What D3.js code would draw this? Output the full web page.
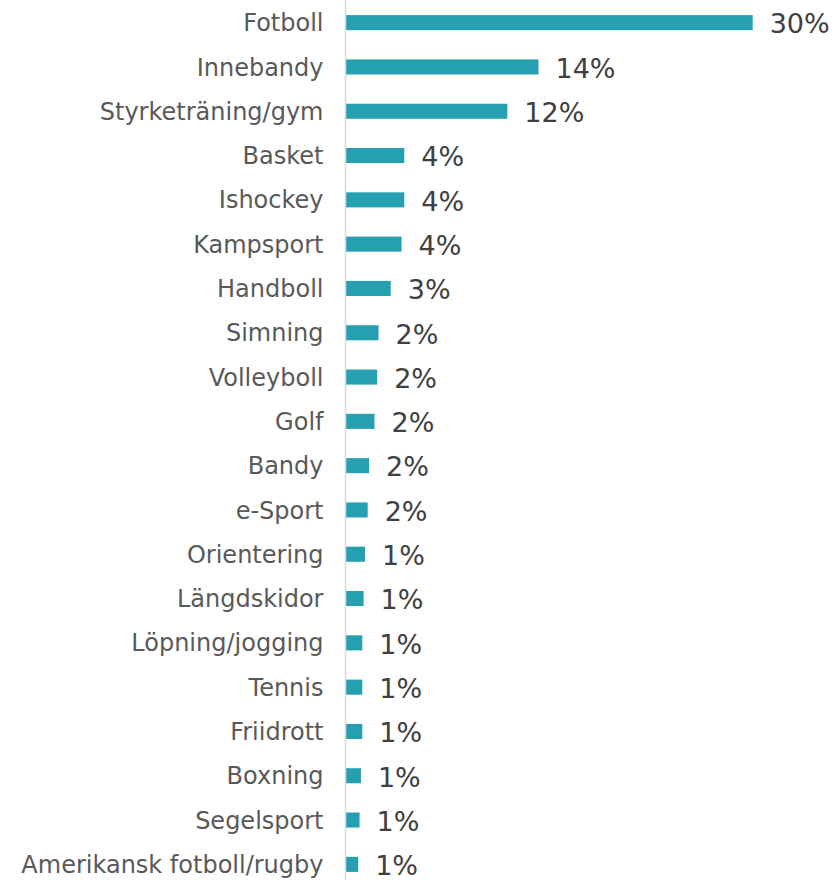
<!DOCTYPE html>
<html>
<head>
<meta charset="utf-8">
<script src="https://cdn.jsdelivr.net/npm/d3@7"></script>
<style>
  html, body { margin: 0; padding: 0; background: #fff; }
  svg { display: block; }
</style>
</head>
<body>
<svg id="chart" width="838" height="880"></svg>
<script>
// Sports, in display order (top to bottom)
const categories = [
  "Fotboll", "Innebandy", "Styrketräning/gym", "Basket", "Ishockey",
  "Kampsport", "Handboll", "Simning", "Volleyboll", "Golf", "Bandy",
  "e-Sport", "Orientering", "Längdskidor", "Löpning/jogging", "Tennis",
  "Friidrott", "Boxning", "Segelsport", "Amerikansk fotboll/rugby"
];
// Share of respondents, percent
const values = [
  30.0, 14.2, 11.9, 4.3, 4.3,
  4.1, 3.3, 2.4, 2.3, 2.1, 1.7,
  1.6, 1.4, 1.3, 1.2, 1.2,
  1.2, 1.1, 1.0, 0.9
];
const xMax = 30;

const svg = d3.select("#chart");
const x0 = 346, x1 = 752.7;

const x = d3.scaleLinear().domain([0, xMax]).range([x0, x1]);
const y = d3.scaleBand().domain(categories).range([0.5, 886.5]).paddingInner(0.66).paddingOuter(0.33);

const fmt = v => d3.format(".0f")(v) + "%";

svg.append("g").selectAll("rect")
  .data(categories)
  .join("rect")
  .attr("x", x(0))
  .attr("y", d => y(d))
  .attr("width", (d, i) => x(values[i]) - x(0))
  .attr("height", y.bandwidth())
  .attr("fill", "#26a0b0");

// Category axis: light vertical line with right-aligned labels
const yAxis = d3.axisLeft(y).tickSize(0).tickPadding(22);
const ag = svg.append("g").attr("transform", `translate(${x0 - 0.5},0)`).call(yAxis);
ag.select(".domain").attr("stroke", "#d9d9d9").attr("stroke-width", 1.5).attr("d", "M0,0V880");
ag.selectAll("text")
  .attr("font-family", "Verdana, 'DejaVu Sans', sans-serif")
  .attr("font-size", 24)
  .attr("dy", "0.36em")
  .attr("fill", "#595959");

// Value labels
svg.append("g").selectAll("text")
  .data(categories)
  .join("text")
  .attr("x", (d, i) => x(values[i]) + 17)
  .attr("y", d => y(d) + y.bandwidth() / 2)
  .attr("dy", "0.4em")
  .attr("font-family", "Verdana, 'DejaVu Sans', sans-serif")
  .attr("font-size", 27)
  .attr("fill", "#404040")
  .text((d, i) => fmt(values[i]));
</script>
</body>
</html>
